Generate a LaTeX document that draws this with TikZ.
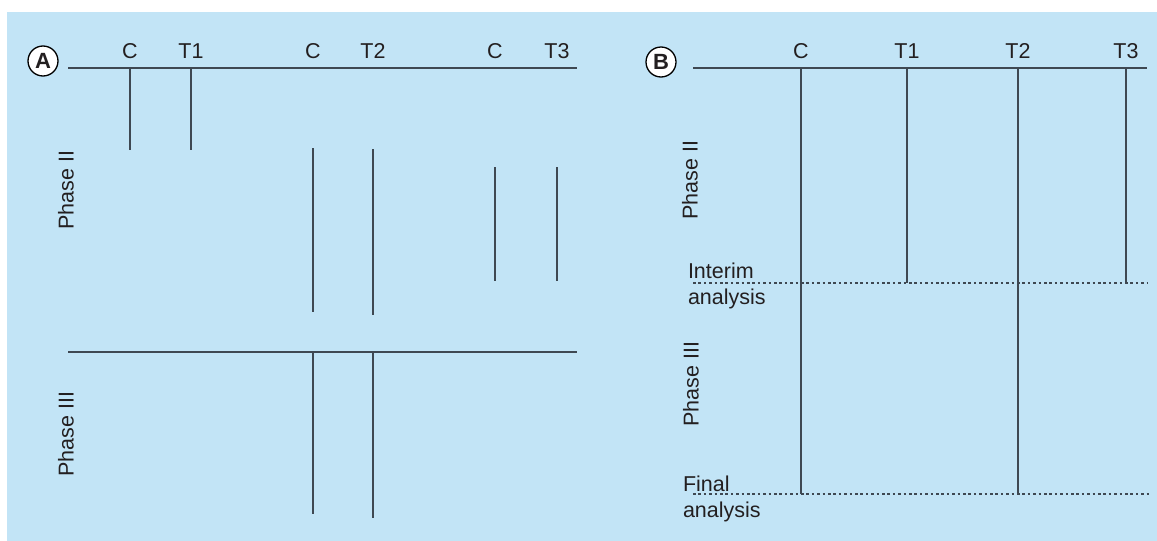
\documentclass[tikz,border=0pt]{standalone}
\usepackage{fontspec}
\setmainfont{Liberation Sans}
\begin{document}
\begin{tikzpicture}[x=1pt,y=-1pt,
  every node/.style={inner sep=0pt, outer sep=0pt, text=ink},
  txt/.style={font=\fontsize{21.5}{25}\selectfont},
  ticklbl/.style={txt, anchor=base},
  phase/.style={txt, rotate=90, anchor=center},
  axis/.style={draw=rule, line width=1.8pt},
  arm/.style={draw=rule, line width=1.8pt},
  cut/.style={draw=rule, line width=1.6pt, dash pattern=on 2.6pt off 2.8pt},
  badge/.style={circle, draw=black, line width=1.3pt, fill=white,
    minimum size=30pt, font=\fontsize{22}{24}\selectfont\bfseries}
]
\definecolor{panel}{RGB}{194,228,246}
\definecolor{ink}{RGB}{35,31,32}
\definecolor{rule}{RGB}{62,72,82}

\useasboundingbox (0,0) rectangle (1157,541);
\fill[white] (0,0) rectangle (1157,541);
\fill[panel] (7,12) rectangle (1157,541);

% ---------------- Panel A: separate phase II and phase III trials
\node[badge] (bA) at (43,61) {A};
\coordinate (aL) at (68,68);
\coordinate (aR) at (577,68);
\draw[axis] (aL) -- (aR);

\node[ticklbl] (aC1) at (130,58) {C};
\node[ticklbl] (aT1) at (191,58) {T1};
\node[ticklbl] (aC2) at (313,58) {C};
\node[ticklbl] (aT2) at (373,58) {T2};
\node[ticklbl] (aC3) at (495,58) {C};
\node[ticklbl] (aT3) at (557,58) {T3};

% first phase II comparison
\coordinate (aC1a) at (130,68);  \coordinate (aC1b) at (130,150);
\coordinate (aT1a) at (191,68);  \coordinate (aT1b) at (191,150);
\draw[arm] (aC1a) -- (aC1b);
\draw[arm] (aT1a) -- (aT1b);

% second phase II comparison
\coordinate (aC2a) at (313,148); \coordinate (aC2b) at (313,312);
\coordinate (aT2a) at (373,149); \coordinate (aT2b) at (373,315);
\draw[arm] (aC2a) -- (aC2b);
\draw[arm] (aT2a) -- (aT2b);

% third phase II comparison
\coordinate (aC3a) at (495,167); \coordinate (aC3b) at (495,281);
\coordinate (aT3a) at (557,167); \coordinate (aT3b) at (557,281);
\draw[arm] (aC3a) -- (aC3b);
\draw[arm] (aT3a) -- (aT3b);

% phase III trial
\coordinate (a3L) at (68,352);
\coordinate (a3R) at (577,352);
\draw[axis] (a3L) -- (a3R);
\coordinate (aC4a) at (313,352); \coordinate (aC4b) at (313,514);
\coordinate (aT4a) at (373,352); \coordinate (aT4b) at (373,518);
\draw[arm] (aC4a) -- (aC4b);
\draw[arm] (aT4a) -- (aT4b);

\node[phase] (aP2) at (66,190) {Phase II};
\node[phase] (aP3) at (66,434) {Phase III};

% ---------------- Panel B: seamless phase II/III design
\node[badge] (bB) at (661,62) {B};
\coordinate (bL) at (693,68);
\coordinate (bR) at (1147,68);
\draw[axis] (bL) -- (bR);

\node[ticklbl] (bC)  at (801,58)  {C};
\node[ticklbl] (bT1) at (907,58)  {T1};
\node[ticklbl] (bT2) at (1018,58) {T2};
\node[ticklbl] (bT3) at (1126,58) {T3};

\coordinate (bCa)  at (801,68);  \coordinate (bCb)  at (801,494);
\coordinate (bT1a) at (907,68);  \coordinate (bT1b) at (907,283);
\coordinate (bT2a) at (1018,68); \coordinate (bT2b) at (1018,494);
\coordinate (bT3a) at (1126,68); \coordinate (bT3b) at (1126,283);
\draw[arm] (bCa) -- (bCb);
\draw[arm] (bT1a) -- (bT1b);
\draw[arm] (bT2a) -- (bT2b);
\draw[arm] (bT3a) -- (bT3b);

% analysis cut-offs
\coordinate (iL) at (693,283); \coordinate (iR) at (1148,283);
\coordinate (fL) at (693,494); \coordinate (fR) at (1149,494);
\draw[cut] (iL) -- (iR);
\draw[cut] (fL) -- (fR);

\node[txt, anchor=base west] (int1) at (688,278) {Interim};
\node[txt, anchor=base west] (int2) at (688,304) {analysis};
\node[txt, anchor=base west] (fin1) at (683,491) {Final};
\node[txt, anchor=base west] (fin2) at (683,517) {analysis};

\node[phase] (bP2) at (690,180) {Phase II};
\node[phase] (bP3) at (691,384) {Phase III};
\end{tikzpicture}
\end{document}
